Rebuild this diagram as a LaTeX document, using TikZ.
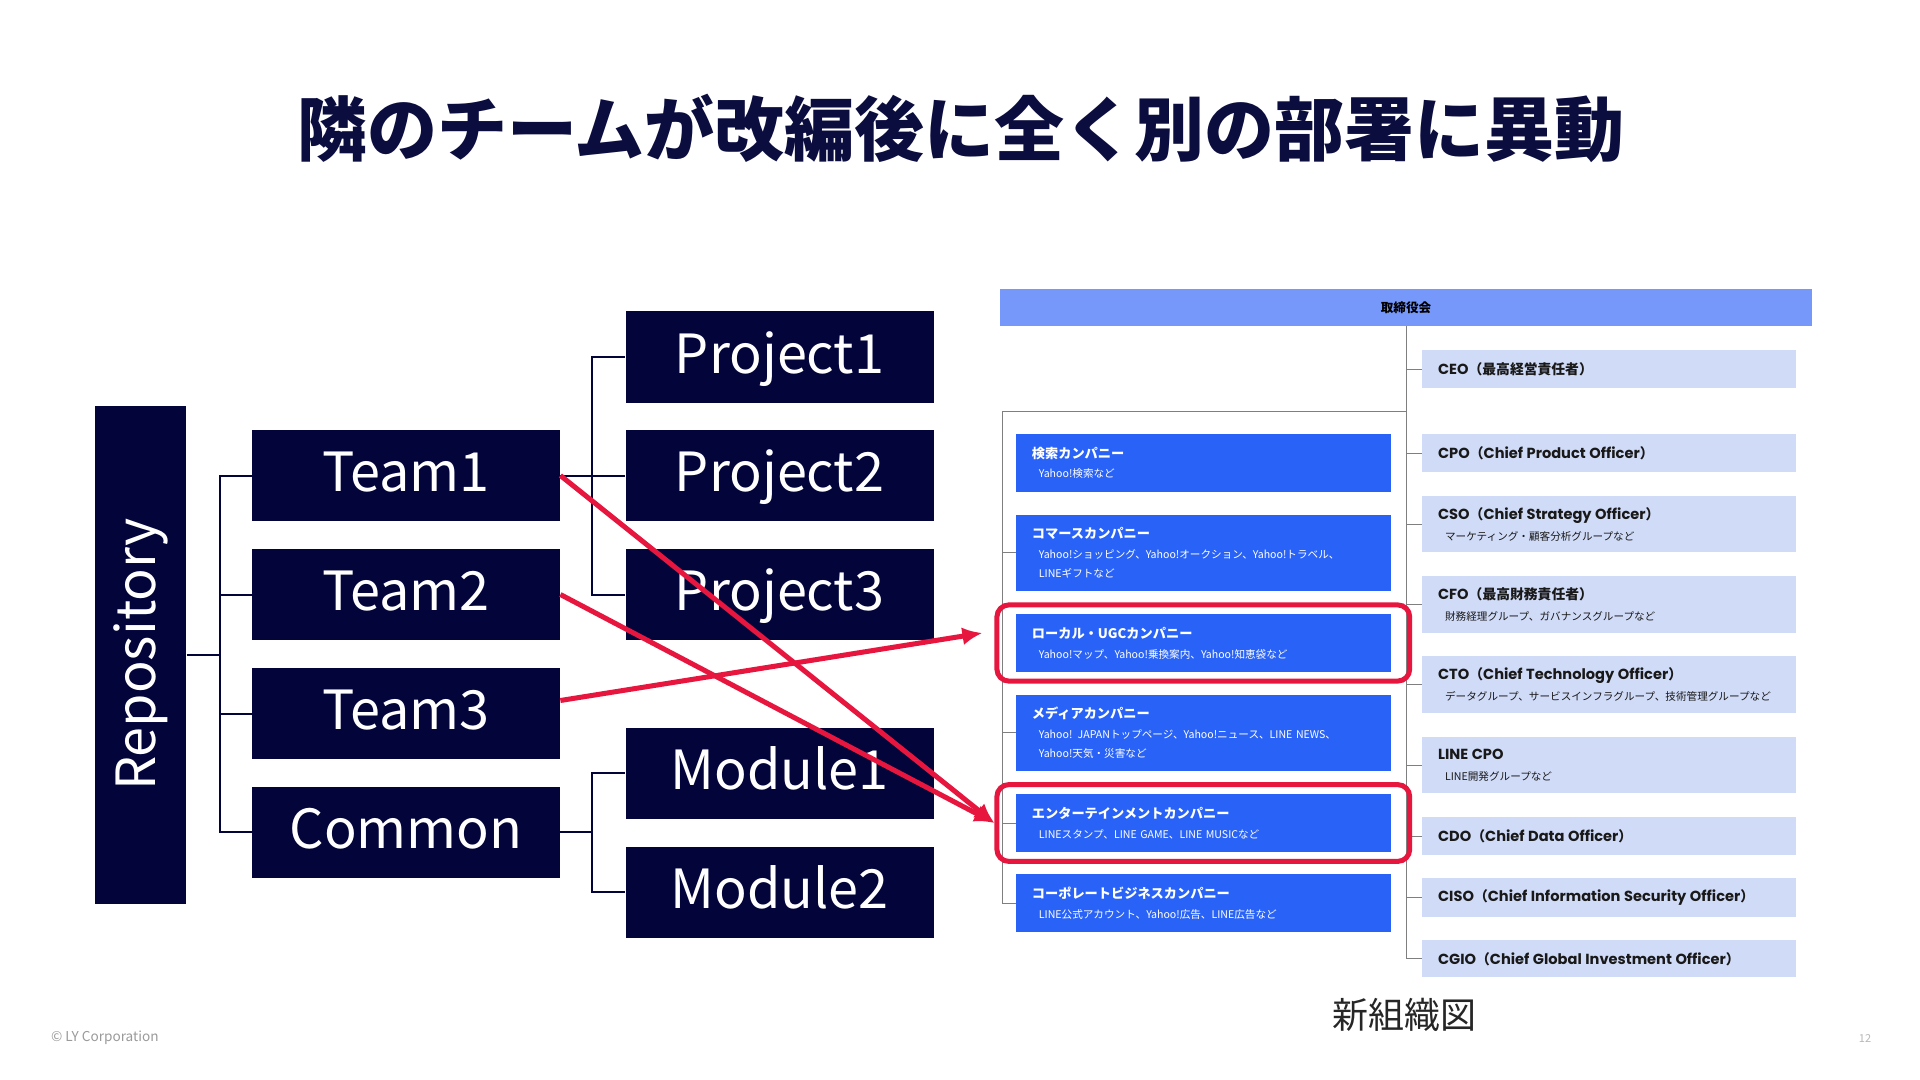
\documentclass[tikz,border=0pt]{standalone}
\usepackage{fontspec}
\usepackage{graphicx}
\setmainfont{Noto Sans CJK JP}
\newfontfamily\poppins{Poppins}
\usetikzlibrary{arrows.meta,calc,fit}
\definecolor{navy}{HTML}{02043A}
\definecolor{titlenavy}{HTML}{0B0D3F}
\definecolor{lyblue}{HTML}{2962F6}
\definecolor{boardblue}{HTML}{7698FB}
\definecolor{paleblue}{HTML}{D0DBF7}
\definecolor{alertred}{HTML}{E6163F}
\definecolor{bk50}{HTML}{7F7F7F}
\definecolor{bk40}{HTML}{9A9A9A}
\newcommand{\orgtitle}[1]{{\fontsize{6.6pt}{9.8pt}\selectfont\bfseries #1}}
\newcommand{\offtitle}[1]{{\fontsize{6.9pt}{9.8pt}\selectfont\bfseries #1}}
\newcommand{\orgsub}[1]{\hspace*{3.5pt}#1}
\newcommand{\lat}[1]{{\poppins\fontsize{7.3pt}{9.8pt}\selectfont #1}}

\begin{document}
\begin{tikzpicture}[x=0.5pt, y=-0.5pt,
  darkbox/.style={fill=navy, text=white, minimum width=154pt, minimum height=45.5pt,
    inner sep=0pt, text height=20pt, text depth=4pt, font=\fontsize{27pt}{30pt}\selectfont},
  tree/.style={draw=navy, line width=1pt},
  cobox/.style={fill=lyblue, text=white, text width=171.4pt, inner xsep=8pt, inner ysep=0pt,
    minimum height=#1, align=left, font=\fontsize{5.3pt}{9.8pt}\selectfont},
  offbox/.style={fill=paleblue, text=black!90, text width=170.9pt, inner xsep=8pt, inner ysep=0pt,
    minimum height=#1, align=left, font=\fontsize{5.3pt}{10.5pt}\selectfont},
  orgline/.style={draw=bk50, line width=0.5pt},
  hilite/.style={draw=alertred, line width=2.5pt, rounded corners=6pt, inner xsep=9.3pt, inner ysep=4.5pt},
  move/.style={draw=alertred, line width=2.5pt, -{Latex[length=10pt,width=9pt]}}
]
\useasboundingbox[fill=white] (0,0) rectangle (1920,1080);

% Title
\node[font=\fontsize{35pt}{40pt}\selectfont\bfseries, text=titlenavy] (title) at (961,128) {隣のチームが改編後に全く別の部署に異動};

% Repository tree
\node[darkbox, minimum width=45.5pt, minimum height=249pt, text height=, text depth=] (repo) at (140.75,654.5) {\rotatebox{90}{Repository}};
\node[darkbox] (t1) at (406,475.5) {Team1};
\node[darkbox] (t2) at (406,594.5) {Team2};
\node[darkbox] (t3) at (406,713.5) {Team3};
\node[darkbox] (cm) at (406,832) {Common};
\node[darkbox] (p1) at (779.5,357) {Project1};
\node[darkbox] (p2) at (779.5,475.5) {Project2};
\node[darkbox] (p3) at (779.5,594.5) {Project3};
\node[darkbox] (m1) at (779.5,773) {Module1};
\node[darkbox] (m2) at (779.5,892) {Module2};

\draw[tree] (repo.east) -- ++(33,0) coordinate (rb);
\foreach \n in {t1,t2,t3,cm} \draw[tree] (rb) |- (\n.west);
\draw[tree] (t1.east) -- ++(32,0) coordinate (pb);
\foreach \n in {p1,p2,p3} \draw[tree] (pb) |- (\n.west);
\draw[tree] (cm.east) -- ++(32,0) coordinate (mb);
\foreach \n in {m1,m2} \draw[tree] (mb) |- (\n.west);

% New organisation chart
\node[fill=boardblue, minimum width=406pt, minimum height=18.5pt, inner sep=0pt,
  font=\fontsize{6.3pt}{8pt}\selectfont\bfseries] (board) at (1406,307.5) {取締役会};

\node[cobox=29pt] (search) at (1203.3,463) {\orgtitle{検索カンパニー}\\\orgsub{Yahoo!検索など}};
\node[cobox=37.8pt] (commerce) at (1203.3,552.8) {\orgtitle{コマースカンパニー}\\\orgsub{Yahoo!ショッピング、Yahoo!オークション、Yahoo!トラベル、}\\\orgsub{LINEギフトなど}};
\node[cobox=28.7pt] (local) at (1203.3,643) {\orgtitle{ローカル・UGCカンパニー}\\\orgsub{Yahoo!マップ、Yahoo!乗換案内、Yahoo!知恵袋など}};
\node[cobox=37.8pt] (media) at (1203.3,732.8) {\orgtitle{メディアカンパニー}\\\orgsub{Yahoo! JAPANトップページ、Yahoo!ニュース、LINE NEWS、}\\\orgsub{Yahoo!天気・災害など}};
\node[cobox=29pt] (ent) at (1203.3,823) {\orgtitle{エンターテインメントカンパニー}\\\orgsub{LINEスタンプ、LINE GAME、LINE MUSICなど}};
\node[cobox=29pt] (corp) at (1203.3,903) {\orgtitle{コーポレートビジネスカンパニー}\\\orgsub{LINE公式アカウント、Yahoo!広告、LINE広告など}};

\node[offbox=19pt] (ceo) at (1609,369) {\offtitle{\lat{CEO}（最高経営責任者）}};
\node[offbox=19pt] (cpo) at (1609,453.3) {\offtitle{\lat{CPO}（\lat{Chief Product Officer}）}};
\node[offbox=28.2pt] (cso) at (1609,524.2) {\offtitle{\lat{CSO}（\lat{Chief Strategy Officer}）}\\\orgsub{マーケティング・顧客分析グループなど}};
\node[offbox=28.3pt] (cfo) at (1609,604.3) {\offtitle{\lat{CFO}（最高財務責任者）}\\\orgsub{財務経理グループ、ガバナンスグループなど}};
\node[offbox=28.6pt] (cto) at (1609,684.7) {\offtitle{\lat{CTO}（\lat{Chief Technology Officer}）}\\\orgsub{データグループ、サービスインフラグループ、技術管理グループなど}};
\node[offbox=28pt] (lcpo) at (1609,765.3) {\offtitle{\lat{LINE CPO}}\\\orgsub{LINE開発グループなど}};
\node[offbox=18.7pt] (cdo) at (1609,836) {\offtitle{\lat{CDO}（\lat{Chief Data Officer}）}};
\node[offbox=19.2pt] (ciso) at (1609,897.5) {\offtitle{\lat{CISO}（\lat{Chief Information Security Officer}）}};
\node[offbox=18.5pt] (cgio) at (1609,958.8) {\offtitle{\lat{CGIO}（\lat{Chief Global Investment Officer}）}};

\draw[orgline] (board.south) -- (board.south |- cgio.west);
\foreach \n in {ceo,cpo,cso,cfo,cto,lcpo,cdo,ciso,cgio}
  \draw[orgline] (board.south |- \n.west) -- (\n.west);
\coordinate (lc) at (1002,411.5);
\draw[orgline] (board.south |- lc) -- (lc) -- (lc |- corp.west);
\foreach \n in {commerce,media,ent,corp}
  \draw[orgline] (lc |- \n.west) -- (\n.west);

% Highlighted destinations
\node[hilite, fit=(local)] (hlocal) {};
\node[hilite, fit=(ent)] (hent) {};

% Moves
\draw[move] (t1.east) -- (hent.west);
\draw[move] (t2.east) -- (hent.west);
\draw[move] ($(t3.east)+(0,-13)$) -- ($(hlocal.west)+(-12,-10)$);

\node[font=\fontsize{18pt}{20pt}\selectfont, text=black!85] (caption) at (1404,1015) {新組織図};

% Footer
\node[anchor=west, font=\fontsize{6.8pt}{8pt}\selectfont, text=bk40] (copy) at (44,1038) {© LY Corporation};
\node[font=\fontsize{5.5pt}{7pt}\selectfont, text=bk40!70] (page) at (1865,1038) {12};

\end{tikzpicture}
\end{document}
